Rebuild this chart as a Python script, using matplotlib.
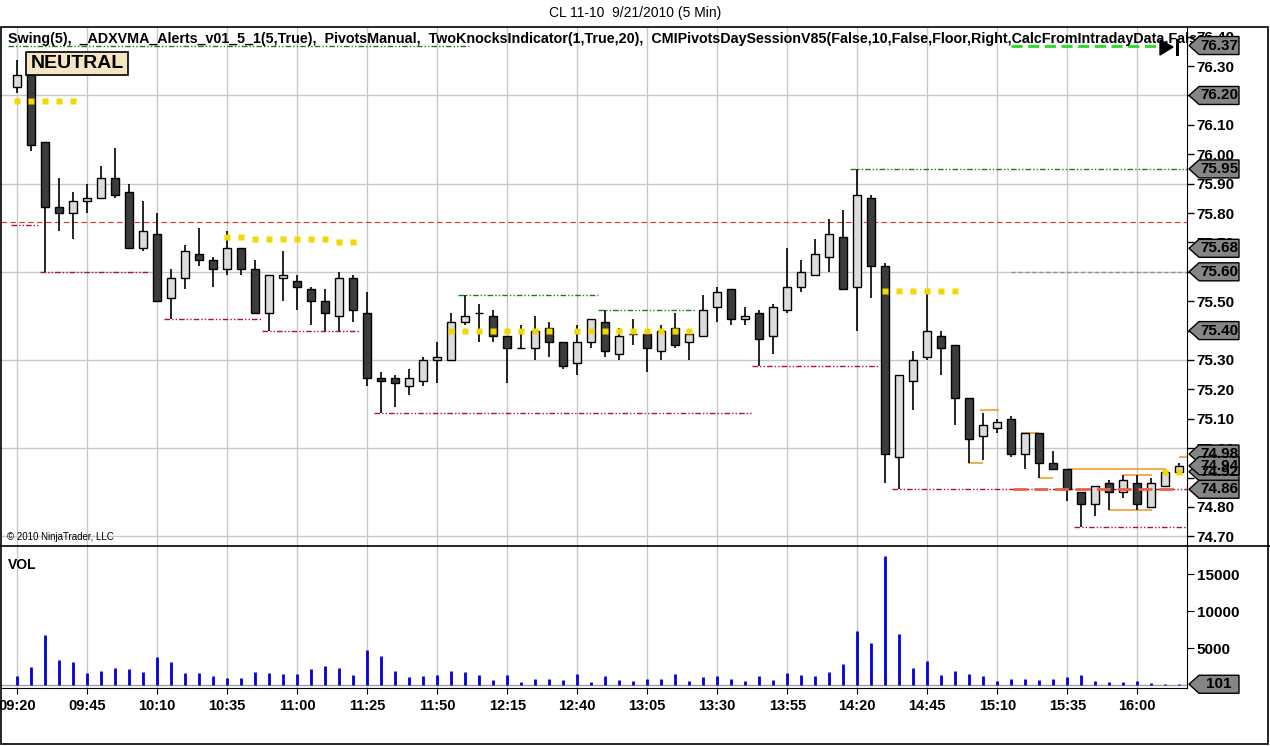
import numpy as np
import matplotlib
matplotlib.use("Agg")
import matplotlib.pyplot as plt
from matplotlib.patches import Polygon, Rectangle
from matplotlib.transforms import IdentityTransform

plt.rcParams['font.family'] = ['Liberation Sans', 'DejaVu Sans']

# --- data: CL 11-10, 5 min bars from 09:20 ---
opens = [76.23, 76.31, 76.04, 75.82, 75.80, 75.84, 75.85, 75.92, 75.87, 75.68,
         75.73, 75.51, 75.58, 75.66, 75.64, 75.61, 75.68, 75.61, 75.46, 75.58,
         75.57, 75.54, 75.50, 75.45, 75.58, 75.46, 75.24, 75.24, 75.21, 75.23,
         75.30, 75.30, 75.43, 75.46, 75.45, 75.38, 75.34, 75.34, 75.41, 75.36,
         75.29, 75.36, 75.43, 75.32, 75.39, 75.39, 75.33, 75.41, 75.36, 75.38,
         75.48, 75.54, 75.44, 75.46, 75.38, 75.47, 75.55, 75.59, 75.65, 75.72,
         75.55, 75.85, 75.62, 74.97, 75.23, 75.31, 75.38, 75.35, 75.17, 75.04,
         75.07, 75.10, 74.98, 75.05, 74.95, 74.93, 74.85, 74.81, 74.88, 74.85,
         74.88, 74.80, 74.87, 74.92]
highs = [76.32, 76.34, 76.04, 75.92, 75.87, 75.90, 75.96, 76.02, 75.90, 75.84,
         75.80, 75.61, 75.69, 75.75, 75.65, 75.74, 75.68, 75.64, 75.59, 75.67,
         75.59, 75.55, 75.54, 75.60, 75.59, 75.53, 75.26, 75.25, 75.27, 75.31,
         75.36, 75.46, 75.52, 75.49, 75.47, 75.38, 75.42, 75.45, 75.43, 75.36,
         75.42, 75.44, 75.47, 75.41, 75.44, 75.39, 75.42, 75.46, 75.39, 75.52,
         75.55, 75.54, 75.48, 75.47, 75.49, 75.68, 75.64, 75.71, 75.78, 75.81,
         75.95, 75.86, 75.63, 75.25, 75.33, 75.53, 75.40, 75.35, 75.17, 75.12,
         75.10, 75.11, 75.05, 75.05, 74.99, 74.93, 74.85, 74.87, 74.89, 74.91,
         74.91, 74.90, 74.92, 74.95]
lows = [76.21, 76.01, 75.60, 75.74, 75.71, 75.80, 75.85, 75.85, 75.68, 75.67,
        75.50, 75.44, 75.54, 75.62, 75.55, 75.59, 75.59, 75.46, 75.40, 75.50,
        75.47, 75.42, 75.40, 75.40, 75.43, 75.21, 75.12, 75.14, 75.18, 75.21,
        75.22, 75.30, 75.42, 75.36, 75.36, 75.22, 75.34, 75.30, 75.31, 75.27,
        75.25, 75.34, 75.31, 75.30, 75.35, 75.26, 75.30, 75.34, 75.30, 75.38,
        75.43, 75.42, 75.42, 75.28, 75.32, 75.46, 75.53, 75.59, 75.60, 75.54,
        75.40, 75.51, 74.88, 74.86, 75.13, 75.30, 75.25, 75.08, 74.95, 74.96,
        75.05, 74.97, 74.93, 74.90, 74.93, 74.82, 74.73, 74.77, 74.79, 74.83,
        74.79, 74.80, 74.87, 74.92]
closes = [76.27, 76.03, 75.82, 75.80, 75.84, 75.85, 75.92, 75.86, 75.68, 75.74,
          75.50, 75.58, 75.67, 75.64, 75.61, 75.68, 75.61, 75.46, 75.59, 75.59,
          75.55, 75.50, 75.46, 75.58, 75.47, 75.24, 75.23, 75.22, 75.24, 75.30,
          75.31, 75.43, 75.45, 75.46, 75.38, 75.34, 75.34, 75.40, 75.36, 75.28,
          75.36, 75.44, 75.33, 75.38, 75.39, 75.34, 75.40, 75.35, 75.39, 75.47,
          75.53, 75.44, 75.45, 75.37, 75.48, 75.55, 75.60, 75.66, 75.73, 75.54,
          75.86, 75.62, 74.98, 75.25, 75.30, 75.40, 75.34, 75.17, 75.03, 75.08,
          75.09, 74.98, 75.05, 74.95, 74.93, 74.86, 74.81, 74.87, 74.85, 74.89,
          74.81, 74.88, 74.92, 74.94]
volume = [1215, 2430, 6750, 3375, 3100, 1620, 1890, 2300, 2160, 1750,
          3780, 3100, 1620, 1620, 1215, 945, 945, 1750, 1620, 1485,
          1485, 2160, 2565, 2300, 1350, 4725, 3915, 1890, 1080, 1215,
          1350, 1890, 1750, 1350, 675, 1350, 405, 810, 810, 675,
          1485, 405, 1215, 675, 540, 810, 810, 1485, 540, 1080,
          1215, 810, 540, 1215, 675, 1620, 1350, 1215, 1750, 2835,
          7290, 5670, 17400, 6885, 2300, 3240, 1350, 1890, 1485, 1215,
          540, 810, 810, 675, 810, 1080, 1350, 540, 405, 405,
          540, 270, 135, 101]
time_labels = ["09:20", "09:45", "10:10", "10:35", "11:00", "11:25", "11:50",
               "12:15", "12:40", "13:05", "13:30", "13:55", "14:20", "14:45",
               "15:10", "15:35", "16:00"]

# swing lines: (start bar, end bar, price)
swing_lows = [(1.6, 9.5, 75.60), (10.5, 17.5, 75.44), (17.5, 24.4, 75.40),
              (25.5, 52.5, 75.12), (52.5, 61.5, 75.28), (62.5, 83.6, 74.86),
              (75.5, 83.5, 74.73), (-0.45, 1.5, 75.76)]
swing_highs = [(-0.66, 32.3, 76.37), (31.5, 41.5, 75.52), (41.5, 48.5, 75.47),
               (59.5, 83.6, 75.95)]
pivot_line = 75.77
# CMI pivots (start, end, price)
cmi_r = (71.0, 81.8, 76.37)
cmi_pp = (71.0, 83.6, 75.60)
cmi_s = (71.1, 83.0, 74.86)
# ADXVMA dots (bars, price)
adx_bars = [[0, 1, 2, 3, 4], [15, 16], [17, 18, 19, 20, 21, 22], [23, 24],
            [31, 32, 33, 34, 35, 36, 37, 38, 40, 41, 42, 43, 44, 45, 46, 47, 48],
            [62, 63, 64, 65, 66, 67], [82, 83]]
adx_price = [76.18, 75.72, 75.71, 75.70, 75.40, 75.535, 74.92]
# TwoKnocks segments (start, end, price)
knocks = [(68.75, 70.1, 75.13), (67.9, 69.0, 74.95), (71.7, 73.0, 75.05),
          (73.0, 74.0, 74.90), (75.05, 82.05, 74.93), (79.0, 81.05, 74.91),
          (78.0, 81.05, 74.79), (83.0, 83.6, 74.97)]
tags = [76.37, 76.20, 75.95, 75.68, 75.60, 75.40, 74.98, 74.92, 74.94, 74.86]

W, H = 1270, 746
fig = plt.figure(figsize=(W / 100, H / 100), dpi=100)


def box(l, t, r, b):
    return [l / W, 1 - b / H, (r - l) / W, (b - t) / H]


ax = fig.add_axes(box(1, 27, 1187, 546))
axv = fig.add_axes(box(1, 546, 1187, 688), sharex=ax)

n = len(opens)
x = np.arange(n)
o, hi, lo, c = map(np.array, (opens, highs, lows, closes))

ax.set_xlim(-1.164, 83.55)
ax.set_ylim(74.667, 76.433)
axv.set_ylim(-405, 18784)

grid_c = '#c8c8c8'
tick_pos = np.arange(0, 81, 5)
for a in (ax, axv):
    for t in tick_pos:
        a.axvline(t, color=grid_c, lw=1, zorder=0)
for yv in np.arange(74.70, 76.25, 0.30):
    ax.axhline(yv, color=grid_c, lw=1, zorder=0)

# reference lines
ax.axhline(pivot_line, color='#e03030', lw=0.8, ls=(0, (5, 3)), zorder=1)
dd = (0, (4, 1.5, 1, 1.5, 1, 1.5))
for s, e, p in swing_lows:
    ax.hlines(p, s, e, color='#b01040', lw=1, ls=dd, zorder=1)
for s, e, p in swing_highs:
    ax.hlines(p, s, e, color='#207a20', lw=1, ls=dd, zorder=1)
ax.hlines(cmi_r[2], cmi_r[0], cmi_r[1], color='#22dd22', lw=2, ls=(0, (4, 2)), zorder=1)
ax.hlines(cmi_pp[2], cmi_pp[0], cmi_pp[1], color='#909090', lw=1, ls=(0, (3, 2)), zorder=1)
ax.hlines(cmi_s[2], cmi_s[0], cmi_s[1], color='#f06040', lw=2, ls=(0, (5, 2.5)), zorder=4)
for s, e, p in knocks:
    ax.hlines(p, s, e, color='#f0a030', lw=1.2, zorder=2)

# candles
up = c >= o
ax.vlines(x, lo, hi, color='black', lw=1.2, zorder=3)
ax.bar(x, np.abs(c - o), bottom=np.minimum(o, c), width=0.6,
       color=np.where(up, '#dcdcdc', '#3c3c3c'), edgecolor='black', lw=1, zorder=3.5)

for bars, p in zip(adx_bars, adx_price):
    ax.plot(bars, [p] * len(bars), ls='none', marker='s', ms=4.5,
            color='#f0d800', mec='none', zorder=5)

ax.yaxis.tick_right()
ax.set_yticks(np.round(np.arange(74.70, 76.45, 0.10), 2))
ax.set_yticklabels([f"{v:.2f}" for v in np.arange(74.70, 76.45, 0.10)])
ax.tick_params(axis='y', length=5, width=1, pad=2, labelsize=11)
ax.tick_params(axis='x', bottom=False, labelbottom=False)
for lab in ax.get_yticklabels():
    lab.set_fontweight('bold')
for sp in ('left', 'top', 'bottom'):
    ax.spines[sp].set_visible(False)

# volume
axv.vlines(x, 0, volume, color='#0000dd', lw=2, zorder=3)
axv.axhline(0, color='#a0a0b0', lw=1, zorder=2)
axv.yaxis.tick_right()
axv.set_yticks([5000, 10000, 15000])
axv.set_yticklabels(['5000', '10000', '15000'])
axv.set_xticks(tick_pos)
axv.set_xticklabels(time_labels)
axv.tick_params(axis='y', length=5, pad=2, labelsize=11)
axv.tick_params(axis='x', length=4, pad=4, labelsize=10.5)
for lab in axv.get_yticklabels() + axv.get_xticklabels():
    lab.set_fontweight('bold')
for sp in ('left', 'top'):
    axv.spines[sp].set_visible(False)


# price tags on the right axis
def tag(a, value, text):
    y = a.transData.transform((0, value))[1]
    pts = [(1189, y), (1199, y + 9), (1239, y + 9), (1239, y - 9), (1199, y - 9)]
    fig.add_artist(Polygon(pts, closed=True, facecolor='#858585', edgecolor='black',
                           lw=1, transform=IdentityTransform(), zorder=6))
    fig.text(1219, y, text, transform=IdentityTransform(), ha='center', va='center',
             fontsize=11, fontweight='bold', zorder=7)


# header / overlays
fig.text(0.5, 1 - 13 / H, "CL 11-10  9/21/2010 (5 Min)", ha='center', va='center', fontsize=10)
fig.text(8 / W, 1 - 39 / H,
         "Swing(5),  _ADXVMA_Alerts_v01_5_1(5,True),  PivotsManual,  TwoKnocksIndicator(1,True,20),  "
         "CMIPivotsDaySessionV85(False,10,False,Floor,Right,CalcFromIntradayData,False,",
         ha='left', va='center', fontsize=10.3, fontweight='bold', zorder=4)
for v in tags:
    tag(ax, v, f"{v:.2f}")
tag(axv, volume[-1], str(volume[-1]))

fig.add_artist(Rectangle((26 / W, 1 - 75 / H), 102 / W, 23 / H, facecolor='#f5e6c3',
                         edgecolor='black', lw=1.2, zorder=5))
fig.text(77 / W, 1 - 63.5 / H, "NEUTRAL", ha='center', va='center', fontsize=14,
         fontweight='bold', zorder=6)
fig.text(7 / W, 1 - 537 / H, "\u00a9 2010 NinjaTrader, LLC", ha='left', va='center', fontsize=7)
fig.text(8 / W, 1 - 565 / H, "VOL", ha='left', va='center', fontsize=10, fontweight='bold')

# play marker
fig.add_artist(Polygon([(1160, H - 40), (1173, H - 47), (1160, H - 55)], closed=True,
                       facecolor='black', edgecolor='black', transform=IdentityTransform(), zorder=6))
fig.add_artist(Rectangle((1176, H - 56), 3, 17, facecolor='black', transform=IdentityTransform(), zorder=6))

# frame
fig.add_artist(Rectangle((1 / W, 2 / H), 1267 / W, 1 - 29 / H, fill=False, edgecolor='black', lw=1.2))
fig.add_artist(plt.Line2D([0, 1], [1 - 546 / H] * 2, color='black', lw=1.2))

fig.savefig('out.png', dpi=100)
